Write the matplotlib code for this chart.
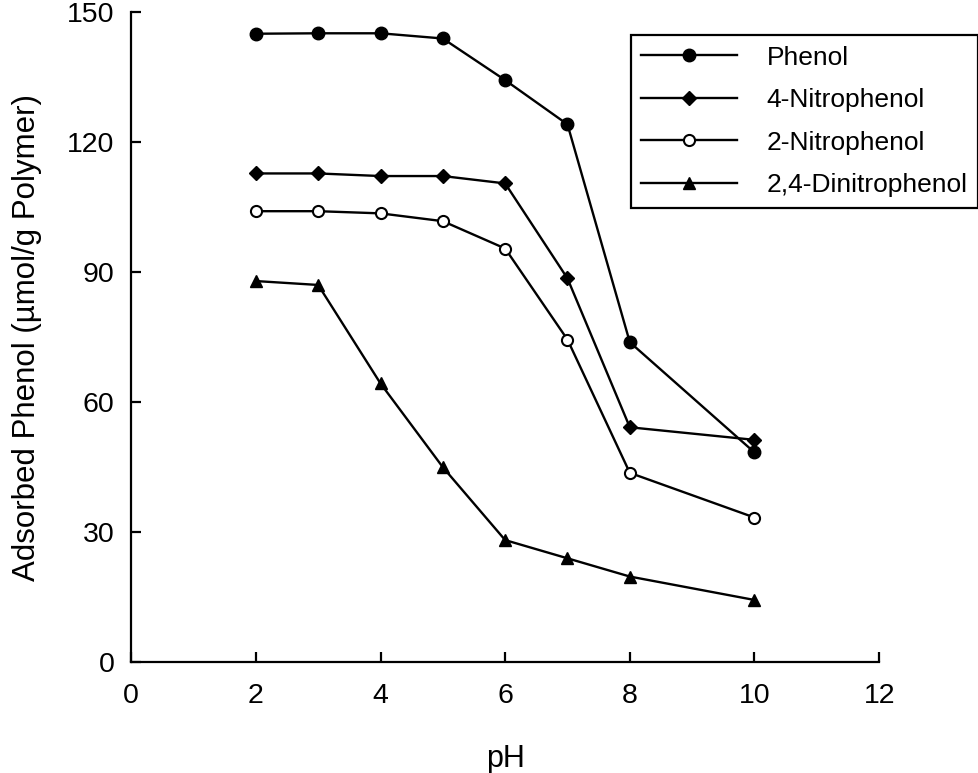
import numpy as np
import matplotlib
matplotlib.use('Agg')
import matplotlib.pyplot as plt

plt.rcParams['font.family'] = ['Liberation Sans', 'DejaVu Sans']

# pH values
ph = [2, 3, 4, 5, 6, 7, 8, 10]

# adsorbed amounts (umol/g polymer)
phenol = [144.9, 145.0, 145.0, 143.8, 134.2, 124.0, 73.8, 48.4]
nitro4 = [112.7, 112.7, 112.1, 112.1, 110.4, 88.5, 54.2, 51.3]
nitro2 = [104.0, 104.0, 103.5, 101.7, 95.4, 74.4, 43.7, 33.4]
dinitro = [87.9, 87.0, 64.3, 45.0, 28.2, 24.0, 19.8, 14.4]

labels = ['Phenol', '4-Nitrophenol', '2-Nitrophenol', '2,4-Dinitrophenol']
xticks = [0, 2, 4, 6, 8, 10, 12]
yticks = [0, 30, 60, 90, 120, 150]

fig = plt.figure(figsize=(9.79, 7.73), dpi=100)
ax = fig.add_axes([0.134, 0.143, 0.898 - 0.134, 0.985 - 0.143])

lw = 1.7
ax.plot(ph, phenol, '-o', color='black', lw=lw, ms=9, mfc='black', mec='black', label=labels[0])
ax.plot(ph, nitro4, '-D', color='black', lw=lw, ms=7, mfc='black', mec='black', label=labels[1])
ax.plot(ph, nitro2, '-o', color='black', lw=lw, ms=8, mfc='white', mec='black', mew=1.5, label=labels[2])
ax.plot(ph, dinitro, '-^', color='black', lw=lw, ms=9, mfc='black', mec='black', label=labels[3])

ax.set_xlim(0, 12)
ax.set_ylim(0, 150)
ax.set_xticks(xticks)
ax.set_yticks(yticks)
ax.spines['top'].set_visible(False)
ax.spines['right'].set_visible(False)
for s in ['left', 'bottom']:
    ax.spines[s].set_linewidth(1.6)
ax.tick_params(direction='in', length=7.5, width=1.6, labelsize=20.5, colors='black')
ax.tick_params(axis='y', pad=12)
ax.tick_params(axis='x', pad=15)

ax.set_xlabel('pH', fontsize=22, labelpad=25)
ax.set_ylabel('Adsorbed Phenol (µmol/g Polymer)', fontsize=22.5, labelpad=18)

leg = ax.legend(loc='upper right', bbox_to_anchor=(978 / 979, 1 - 35 / 773),
                bbox_transform=fig.transFigure, borderaxespad=0, fontsize=19,
                frameon=True, fancybox=False, edgecolor='black', framealpha=1,
                handlelength=3.65, handletextpad=1.1, labelspacing=0.7,
                borderpad=0.4, numpoints=1)
leg.get_frame().set_linewidth(1.6)

fig.savefig('out.png', dpi=100)
